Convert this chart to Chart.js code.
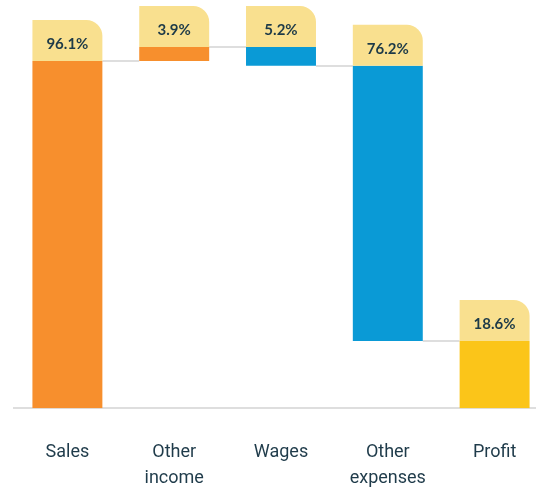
<!DOCTYPE html>
<html>
<head>
<meta charset="utf-8">
<script src="https://cdn.jsdelivr.net/npm/chart.js@4"></script>
<style>
  html, body { margin: 0; padding: 0; background: #fff; overflow: hidden; }
  .wrap { position: relative; width: 548px; height: 522px; }
</style>
</head>
<body>
<div class="wrap"><canvas id="waterfall"></canvas></div>
<script>
// Kategoriler ve degisimler (%)
const categories = [['Sales'], ['Other', 'income'], ['Wages'], ['Other', 'expenses'], ['Profit']];
const changes = [96.1, 3.9, -5.2, -76.2, 18.6];
const isTotal = [false, false, false, false, true];
const valueLabels = ['96.1%', '3.9%', '5.2%', '76.2%', '18.6%'];

const barColors = ['#f78f2d', '#f78f2d', '#0a9ad6', '#0a9ad6', '#fbc519'];

// kumulatif araliklar
const ranges = [];
let running = 0;
changes.forEach(function(v, i) {
    if (isTotal[i]) {
        ranges.push([0, v]);
        running = v;
    } else {
        ranges.push([running, running + v]);
        running += v;
    }
});

// bar ustundeki etiket kutulari + baglanti cizgileri
const waterfallDecor = {
    id: 'waterfallDecor',
    beforeDatasetsDraw(chart) {
        const ctx = chart.ctx;
        const meta = chart.getDatasetMeta(0);
        const y = chart.scales.y;
        ctx.save();
        ctx.strokeStyle = '#dedede';
        ctx.lineWidth = 2;
        for (let i = 0; i < meta.data.length - 1; i++) {
            const a = meta.data[i], b = meta.data[i + 1];
            const py = Math.round(y.getPixelForValue(ranges[i][1]));
            ctx.beginPath();
            ctx.moveTo(a.x + a.width / 2, py);
            ctx.lineTo(b.x - b.width / 2, py);
            ctx.stroke();
        }
        ctx.restore();
    },
    afterDatasetsDraw(chart) {
        const ctx = chart.ctx;
        const meta = chart.getDatasetMeta(0);
        const y = chart.scales.y;
        const boxH = 41;
        ctx.save();
        meta.data.forEach(function(bar, i) {
            const top = y.getPixelForValue(Math.max(ranges[i][0], ranges[i][1]));
            const left = bar.x - bar.width / 2;
            ctx.fillStyle = '#f9e08f';
            ctx.beginPath();
            ctx.roundRect(left, top - boxH, bar.width, boxH, [0, 16, 0, 0]);
            ctx.fill();
            ctx.fillStyle = '#1d3a48';
            ctx.font = 'bold 15px Lato';
            ctx.textAlign = 'center';
            ctx.textBaseline = 'middle';
            ctx.fillText(valueLabels[i], bar.x, top - boxH / 2 + 4);
        });
        ctx.restore();
    }
};

document.addEventListener('DOMContentLoaded', function() {
    const ctx = document.getElementById('waterfall').getContext('2d');
    new Chart(ctx, {
        type: 'bar',
        data: {
            labels: categories,
            datasets: [{
                data: ranges,
                backgroundColor: barColors,
                borderWidth: 0,
                categoryPercentage: 1,
                barPercentage: 0.655
            }]
        },
        options: {
            responsive: true,
            maintainAspectRatio: false,
            animation: false,
            layout: { padding: { left: 14, right: 0, top: 0, bottom: 0 } },
            scales: {
                x: {
                    grid: { display: false, drawTicks: false },
                    border: { display: true, color: '#dedede', width: 2 },
                    ticks: {
                        color: '#1f3b4a',
                        padding: 31,
                        maxRotation: 0,
                        font: { family: 'Roboto', size: 18, lineHeight: 1.44 }
                    }
                },
                y: {
                    display: false,
                    min: 0,
                    max: 113
                }
            },
            plugins: {
                legend: { display: false },
                tooltip: { enabled: false }
            }
        },
        plugins: [waterfallDecor]
    });
});
</script>
</body>
</html>
